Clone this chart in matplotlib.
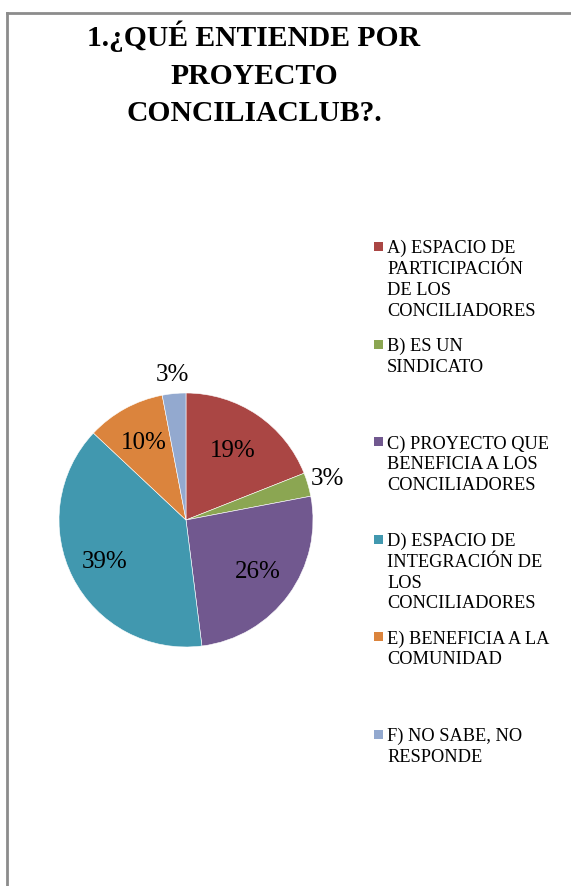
import matplotlib
matplotlib.use("Agg")
import matplotlib.pyplot as plt
import numpy as np
from matplotlib.patches import Rectangle
from matplotlib.lines import Line2D

# Survey results
categories = [
    "A) ESPACIO DE\nPARTICIPACIÓN\nDE LOS\nCONCILIADORES",
    "B) ES UN\nSINDICATO",
    "C) PROYECTO QUE\nBENEFICIA A LOS\nCONCILIADORES",
    "D) ESPACIO DE\nINTEGRACIÓN DE\nLOS\nCONCILIADORES",
    "E) BENEFICIA A LA\nCOMUNIDAD",
    "F) NO SABE, NO\nRESPONDE",
]
percentages = [19, 3, 26, 39, 10, 3]
colors = ["#AA4644", "#8BA652", "#71588F", "#4198AF", "#DB843D", "#93A9CF"]
title = "1.¿QUÉ ENTIENDE POR\nPROYECTO\nCONCILIACLUB?."

W, H = 571, 886
fig = plt.figure(figsize=(W / 100, H / 100), dpi=100)
serif = ["Liberation Serif", "DejaVu Serif"]

# chart area frame (top and left edges are visible)
frame_kw = dict(color="#8c8c8c", linewidth=2.0, transform=fig.transFigure)
fig.add_artist(Line2D([7 / W, 1.0], [1 - 13 / H, 1 - 13 / H], **frame_kw))
fig.add_artist(Line2D([7 / W, 7 / W], [0.0, 1 - 13 / H], **frame_kw))

# title
fig.text(254 / W, 1 - 21 / H, title, ha="center", va="top", family=serif,
         fontweight="bold", fontsize=21.3, linespacing=1.48)

# pie
cx, cy, r = 186, 520, 127
ax = fig.add_axes([(cx - r) / W, 1 - (cy + r) / H, 2 * r / W, 2 * r / H])
wedges, _ = ax.pie(percentages, colors=colors, startangle=90, counterclock=False,
                   radius=1.0, wedgeprops=dict(edgecolor="white", linewidth=0.4))
ax.set_xlim(-1, 1)
ax.set_ylim(-1, 1)
ax.set_aspect("equal")
ax.axis("off")

label_dist = [0.66, 1.16, 0.70, 0.72, 0.69, 1.15]
for w, p, d in zip(wedges, percentages, label_dist):
    mid = np.deg2rad((w.theta1 + w.theta2) / 2)
    ax.text(d * np.cos(mid), d * np.sin(mid), f"{p}%", ha="center", va="center",
            family=serif, fontsize=18, clip_on=False)

# legend, entries on an even pitch
y0, pitch = 240, 97.6
for i, (lab, col) in enumerate(zip(categories, colors)):
    y = y0 + i * pitch
    fig.add_artist(Rectangle((374 / W, 1 - (y + 11) / H), 9 / W, 9 / H,
                             facecolor=col, edgecolor="none",
                             transform=fig.transFigure))
    fig.text(387 / W, 1 - y / H, lab, ha="left", va="top", family=serif,
             fontsize=13.2, linespacing=1.29)

fig.savefig("out.png", dpi=100, facecolor="white")
